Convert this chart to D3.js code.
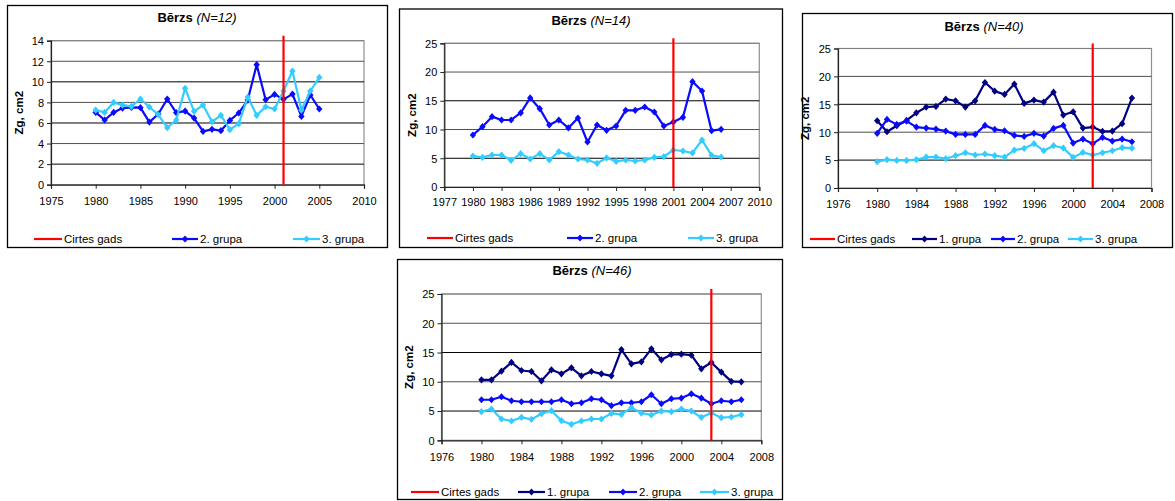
<!DOCTYPE html>
<html><head><meta charset="utf-8">
<script src="https://cdn.jsdelivr.net/npm/d3@7"></script>
<style>
body{margin:0;background:#fff;}
svg text{font-family:"Liberation Sans",Arial,sans-serif;}
</style></head>
<body><svg id="c" width="1175" height="501"></svg>
<script>
// ---------- DATA ----------
const years1980_2005 = d3.range(1980, 2006);
const years1980_2006 = d3.range(1980, 2007);

const legendLabels = ["Cirtes gads", "1. grupa", "2. grupa", "3. grupa"];

// Panel A: Bērzs (N=12)
const a_title = "Bērzs", a_n = "(N=12)";
const a_xTicks = [1975, 1980, 1985, 1990, 1995, 2000, 2005, 2010];
const a_yTicks = [0, 2, 4, 6, 8, 10, 12, 14];
const a_cut = 2001;
const a_g2 = [7.03,6.29,7.03,7.45,7.52,7.49,6.09,6.87,8.33,7.0,7.16,6.48,5.18,5.38,5.25,6.25,6.97,8.23,11.67,8.26,8.78,8.30,8.81,6.64,8.72,7.36];
const a_g3 = [7.26,7.03,8.0,7.74,7.62,8.33,7.55,6.8,5.54,6.29,9.37,7.13,7.74,6.12,6.74,5.35,5.93,8.52,6.74,7.58,7.36,9.11,11.05,7.26,9.11,10.43];

// Panel B: Bērzs (N=14)
const b_title = "Bērzs", b_n = "(N=14)";
const b_xTicks = [1977, 1980, 1983, 1986, 1989, 1992, 1995, 1998, 2001, 2004, 2007, 2010];
const b_yTicks = [0, 5, 10, 15, 20, 25];
const b_cut = 2001;
const b_g2 = [9.05,10.5,12.24,11.66,11.66,12.88,15.49,13.63,10.79,11.66,10.27,12.0,7.83,10.79,9.86,10.61,13.34,13.34,13.92,13.05,10.61,11.31,12.12,18.33,16.7,9.8,10.03];
const b_g3 = [5.39,5.16,5.57,5.57,4.64,5.8,4.87,5.8,4.7,6.15,5.57,4.87,4.7,4.12,5.05,4.47,4.7,4.52,4.7,5.16,5.28,6.44,6.26,5.92,8.18,5.51,5.22];

// Panel C: Bērzs (N=40)
const c_title = "Bērzs", c_n = "(N=40)";
const c_xTicks = [1976, 1980, 1984, 1988, 1992, 1996, 2000, 2004, 2008];
const c_yTicks = [0, 5, 10, 15, 20, 25];
const c_cut = 2002;
const c_g1 = [12.05,10.08,11.16,12.11,13.48,14.5,14.62,15.93,15.63,14.5,15.63,18.91,17.36,16.77,18.62,15.16,15.75,15.39,17.18,13.07,13.66,10.74,10.92,10.14,10.2,11.52,16.11];
const c_g2 = [9.79,12.29,11.4,11.99,10.92,10.74,10.56,10.2,9.61,9.61,9.61,11.22,10.5,10.26,9.43,9.25,9.79,9.31,10.68,11.22,8.05,8.77,7.94,9.07,8.41,8.77,8.29];
const c_g3 = [4.71,5.07,4.95,4.95,5.07,5.55,5.55,5.25,5.79,6.32,5.91,6.09,5.79,5.55,6.8,7.1,7.94,6.68,7.58,7.16,5.49,6.38,5.91,6.32,6.68,7.22,7.16];

// Panel D: Bērzs (N=46)
const d_title = "Bērzs", d_n = "(N=46)";
const d_xTicks = [1976, 1980, 1984, 1988, 1992, 1996, 2000, 2004, 2008];
const d_yTicks = [0, 5, 10, 15, 20, 25];
const d_cut = 2003;
const d_g1 = [10.34,10.34,11.82,13.3,11.93,11.76,10.17,12.05,11.36,12.39,11.02,11.76,11.36,11.02,15.51,13.07,13.41,15.63,13.75,14.66,14.72,14.55,12.22,13.3,11.65,10.06,10.0];
const d_g2 = [6.93,6.93,7.44,6.76,6.59,6.59,6.59,6.59,6.93,6.25,6.42,7.1,6.93,5.91,6.42,6.42,6.59,7.78,6.25,7.1,7.22,7.95,7.22,6.25,6.76,6.59,6.93];
const d_g3 = [4.89,5.34,3.64,3.3,3.92,3.58,4.55,5.06,3.35,2.73,3.3,3.64,3.64,4.6,4.43,5.57,4.66,4.32,5.0,4.89,5.34,5.0,3.92,4.66,3.86,3.98,4.38];

// ---------- STYLE ----------
const colors = {cut:"#ff0000", g1:"#000080", g2:"#0a0aff", g3:"#33ccff"};
const svg = d3.select("#c");

const panels = [
  {title:a_title, n:a_n, xTicks:a_xTicks, yTicks:a_yTicks, cut:a_cut, years:years1980_2005,
   series:[{key:"g2", label:legendLabels[2], v:a_g2},{key:"g3", label:legendLabels[3], v:a_g3}],
   frame:[7,5,381,243], plot:[51,364,40.7,184.7], titleX:197, titleY:22, ylabX:19, xlabY:201,
   legY:239, leg:[[34,62],[172,198],[293,320]]},
  {title:b_title, n:b_n, xTicks:b_xTicks, yTicks:b_yTicks, cut:b_cut, years:years1980_2006,
   series:[{key:"g2", label:legendLabels[2], v:b_g2},{key:"g3", label:legendLabels[3], v:b_g3}],
   frame:[399,8.5,384,239.5], plot:[444.3,759.3,43.3,187], titleX:591, titleY:25, ylabX:412, xlabY:202,
   legY:238, leg:[[427,453],[567,593],[688,714]]},
  {title:c_title, n:c_n, xTicks:c_xTicks, yTicks:c_yTicks, cut:c_cut, years:years1980_2006,
   series:[{key:"g1", label:legendLabels[1], v:c_g1},{key:"g2", label:legendLabels[2], v:c_g2},{key:"g3", label:legendLabels[3], v:c_g3}],
   frame:[802,13,371,235], plot:[838,1151.5,48.5,188], titleX:984, titleY:31, ylabX:805, xlabY:204,
   legY:239, leg:[[810,835],[912,937],[991,1015],[1068,1093]]},
  {title:d_title, n:d_n, xTicks:d_xTicks, yTicks:d_yTicks, cut:d_cut, years:years1980_2006,
   series:[{key:"g1", label:legendLabels[1], v:d_g1},{key:"g2", label:legendLabels[2], v:d_g2},{key:"g3", label:legendLabels[3], v:d_g3}],
   frame:[397,259,386,241], plot:[441.5,761.3,294,440.3], titleX:592, titleY:275, ylabX:409, xlabY:457,
   legY:492, leg:[[411,439],[518,545],[609,637],[700,729]]}
];

const diamondPath = "M0,-3.6L3.2,0L0,3.6L-3.2,0Z";

panels.forEach(p => {
  const g = svg.append("g");
  const [fx, fy, fw, fh] = p.frame;
  g.append("rect").attr("x", fx+0.5).attr("y", fy+0.5).attr("width", fw-1).attr("height", fh-1)
    .attr("fill", "#fff").attr("stroke", "#000").attr("stroke-width", 1.3);

  const [l, r, t, b] = p.plot;
  const x = d3.scaleLinear().domain(d3.extent(p.xTicks)).range([l, r]);
  const y = d3.scaleLinear().domain(d3.extent(p.yTicks)).range([b, t]);

  // plot area border
  g.append("rect").attr("x", l).attr("y", t).attr("width", r-l).attr("height", b-t)
    .attr("fill", "none").attr("stroke", "#909090").attr("stroke-width", 1.2);

  // gridlines
  g.append("g").selectAll("line").data(p.yTicks.slice(1, -1)).join("line")
    .attr("x1", l).attr("x2", r).attr("y1", d => y(d)).attr("y2", d => y(d))
    .attr("stroke", (d,i) => i % 2 ? "#505050" : "#000").attr("stroke-width", 1);
  g.append("line").attr("x1", l).attr("x2", r).attr("y1", t).attr("y2", t).attr("stroke", "#808080");

  // axes
  const yAxis = g.append("g").attr("transform", `translate(${l},0)`)
    .call(d3.axisLeft(y).tickValues(p.yTicks).tickSize(4).tickPadding(3).tickFormat(d3.format("d")));
  const xAxis = g.append("g").attr("transform", `translate(0,${b})`)
    .call(d3.axisBottom(x).tickValues(p.xTicks).tickSize(4).tickPadding(4).tickFormat(d3.format("d")));
  [yAxis, xAxis].forEach(ax => {
    ax.select(".domain").attr("stroke", "#222").attr("stroke-width", 1.2);
    ax.selectAll(".tick line").attr("stroke", "#222");
    ax.selectAll(".tick text").attr("fill", "#000").style("font-size", "11px")
      .style("font-family", '"Liberation Sans",Arial,sans-serif');
  });
  yAxis.selectAll(".tick text").attr("dy", "0.35em");
  xAxis.selectAll(".tick text").attr("y", p.xlabY - b).attr("dy", "0.35em");

  // title
  const tt = g.append("text").attr("x", p.titleX).attr("y", p.titleY).attr("text-anchor", "middle")
    .style("font-size", "13px");
  tt.append("tspan").attr("font-weight", "bold").text(p.title + " ");
  tt.append("tspan").attr("font-style", "italic").text(p.n);

  // y label
  g.append("text").attr("transform", `translate(${p.ylabX + 4},${(t + b) / 2}) rotate(-90)`)
    .attr("text-anchor", "middle").attr("font-weight", "bold").style("font-size", "11.5px").text("Zg, cm2");

  // series
  const line = d3.line().x((d, i) => x(p.years[i])).y(d => y(d));
  p.series.forEach(s => {
    const sg = g.append("g");
    sg.append("path").datum(s.v).attr("d", line).attr("fill", "none")
      .attr("stroke", colors[s.key]).attr("stroke-width", 2.2).attr("stroke-linejoin", "round");
    sg.selectAll("path.m").data(s.v).join("path").attr("class", "m")
      .attr("transform", (d, i) => `translate(${x(p.years[i])},${y(d)})`)
      .attr("d", diamondPath).attr("fill", colors[s.key]);
  });

  // cut year line
  g.append("line").attr("x1", x(p.cut)).attr("x2", x(p.cut)).attr("y1", t - 5).attr("y2", b)
    .attr("stroke", colors.cut).attr("stroke-width", 2.2);

  // legend
  const items = [{label: legendLabels[0], key: "cut", marker: false}]
    .concat(p.series.map(s => ({label: s.label, key: s.key, marker: true})));
  items.forEach((it, i) => {
    const [x1, x2] = p.leg[i];
    const lg = g.append("g");
    lg.append("line").attr("x1", x1).attr("x2", x2).attr("y1", p.legY).attr("y2", p.legY)
      .attr("stroke", colors[it.key]).attr("stroke-width", 2.2);
    if (it.marker) lg.append("path").attr("d", diamondPath)
      .attr("transform", `translate(${(x1 + x2) / 2},${p.legY})`).attr("fill", colors[it.key]);
    lg.append("text").attr("x", x2 + 2).attr("y", p.legY).attr("dy", "0.35em")
      .style("font-size", "11.5px").text(it.label);
  });
});
</script></body></html>
